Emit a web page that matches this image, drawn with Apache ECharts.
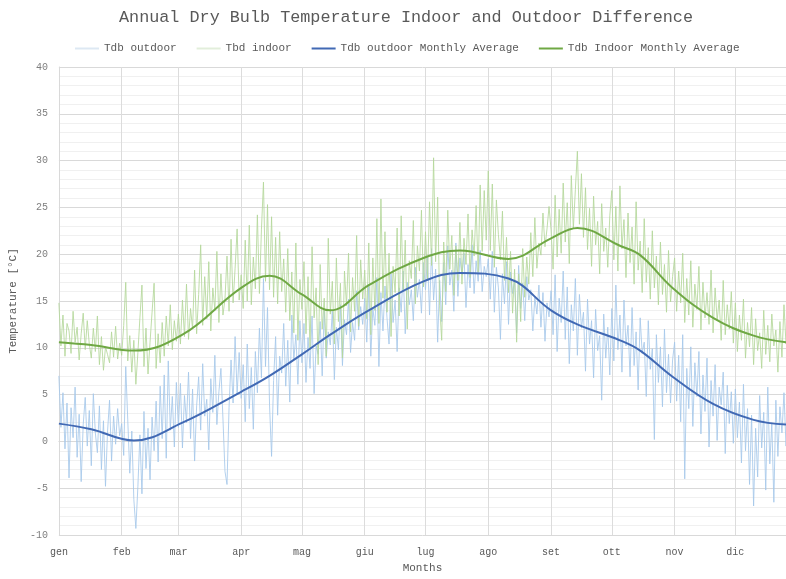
<!DOCTYPE html>
<html>
<head>
<meta charset="utf-8">
<title>Annual Dry Bulb Temperature</title>
<script src="https://cdn.jsdelivr.net/npm/echarts@6.0.0/dist/echarts.min.js"></script>
<style>
  html, body { margin: 0; padding: 0; background: #fff; }
  #main { width: 786px; height: 579px; }
</style>
</head>
<body>
<div id="main"></div>
<script>
// mesi e giorni per mese
var months = ['gen', 'feb', 'mar', 'apr', 'mag', 'giu', 'lug', 'ago', 'set', 'ott', 'nov', 'dic'];
var monthDays = [31, 28, 31, 30, 31, 30, 31, 31, 30, 31, 30, 31];
var yTicks = [-10, -5, 0, 5, 10, 15, 20, 25, 30, 35, 40];

// Tdb outdoor, daily values, one array per month
var outdoorJan = [7.0,1.5,5.2,-0.8,4.1,-3.9,3.6,0.4,5.8,-1.7,2.9,-4.3,1.8,4.7,-0.5,3.3,-2.6,5.1,0.9,-1.2,3.8,-3.0,2.2,-4.8,1.0,4.4,-2.1,2.7,-0.3,3.5,0.6];
var outdoorFeb = [1.9,-1.5,8.0,2.3,-3.4,1.1,-6.2,-9.3,-4.8,0.7,-5.6,3.2,-2.9,1.4,-4.1,2.6,-1.0,4.3,-2.2,5.9,0.3,7.1,-1.8,8.6,1.2,4.8,-0.6,6.3];
var outdoorMar = [1.5,6.2,-0.7,4.9,2.0,7.4,0.3,5.6,-2.1,3.8,6.9,1.2,8.3,2.7,4.5,-0.9,6.7,3.1,9.2,1.8,5.3,7.8,2.4,-3.2,-4.6,3.6,8.7,4.1,11.2,5.0,9.5];
var outdoorApr = [4.6,8.2,2.1,10.4,3.5,7.9,1.3,9.6,5.2,12.1,6.8,17.4,8.0,14.3,3.9,-1.6,6.5,11.2,2.8,9.1,7.3,12.6,5.9,10.8,4.2,13.5,8.7,11.4,6.1,12.9];
var outdoorMay = [8.4,12.6,6.3,11.1,7.8,13.4,5.1,10.2,9.3,12.8,7.0,14.1,8.9,11.7,10.3,13.9,6.6,12.2,9.8,14.6,8.1,13.0,11.4,15.2,9.5,12.7,10.8,16.1,11.9,14.4,12.5];
var outdoorJun = [15.3,10.6,16.8,9.1,14.2,12.4,17.5,8.0,15.9,11.8,16.6,13.2,10.4,17.9,12.7,15.1,9.6,16.4,13.8,18.2,11.5,17.0,14.6,16.2,12.9,18.6,15.4,17.3,13.7,19.1];
var outdoorJul = [16.2,19.8,13.5,20.6,15.1,18.4,10.6,17.2,12.8,19.1,14.6,20.9,16.7,18.3,13.9,21.2,15.5,19.6,17.8,20.1,14.3,18.9,16.4,21.0,15.8,19.3,17.1,20.4,16.0,18.7,17.6];
var outdoorAug = [19.5,15.2,20.3,13.8,18.6,16.4,10.9,17.9,14.7,19.2,12.5,18.1,15.8,17.3,11.6,18.8,14.2,16.9,12.9,17.6,15.1,16.2,11.8,15.4,13.6,16.7,12.2,15.9,10.7,14.8,13.3];
var outdoorSep = [16.1,11.4,17.8,9.6,15.3,12.7,18.2,10.9,16.5,8.3,14.6,11.8,17.4,9.2,15.7,12.1,13.8,7.5,15.2,10.4,12.9,6.8,14.1,9.7,11.3,4.4,13.6,8.9,12.2,7.1];
var outdoorOct = [14.2,8.6,16.7,9.8,13.5,7.4,15.1,10.2,12.4,6.9,14.3,8.1,11.7,5.5,13.2,9.4,10.6,4.8,12.9,7.7,9.9,0.2,11.4,6.3,10.1,3.7,12.0,5.2,9.3,4.1,8.7];
var outdoorNov = [10.6,4.3,9.2,2.1,11.4,-4.0,7.8,3.5,10.1,1.6,8.4,4.8,9.6,0.8,7.1,3.2,8.9,-0.6,6.5,2.7,8.2,0.1,5.8,3.9,7.4,-1.3,6.0,1.9,5.3,-0.2];
var outdoorDec = [5.6,0.4,4.2,-2.3,6.1,-1.0,3.5,-4.6,2.8,-6.9,1.4,-3.8,4.9,-0.7,3.1,-5.2,5.8,-2.4,2.0,-6.5,4.4,-1.6,3.7,0.9,5.2,-0.5,2.6,1.3,4.0,-1.1,2.2];

// Tbd indoor
var indoorJan = [14.8,10.2,13.5,9.1,12.6,11.8,9.4,13.9,10.6,12.2,8.7,11.5,13.7,9.8,12.9,10.4,8.9,12.1,9.6,13.4,8.2,11.2,7.6,10.1,9.3,8.4,11.7,9.0,12.3,8.8,10.5];
var indoorFeb = [9.2,12.4,17.0,8.6,11.3,7.4,10.8,6.1,9.5,13.2,16.7,8.0,12.1,7.2,10.6,13.8,16.9,7.8,11.5,8.4,12.7,9.1,13.4,10.2,14.6,9.8,12.9,10.7];
var indoorMar = [13.6,10.4,15.1,11.2,16.8,10.9,14.2,12.0,18.3,11.5,15.7,21.0,12.4,17.6,13.1,19.2,11.8,16.4,14.0,20.3,12.7,17.9,13.5,15.2,19.8,13.9,21.6,14.8,18.5,22.7,15.1];
var indoorApr = [17.8,14.2,21.5,15.0,23.1,14.6,19.7,16.3,24.2,15.8,22.6,27.7,17.1,25.3,16.2,24.0,15.4,21.8,14.7,22.4,16.0,19.5,13.8,20.6,12.9,18.1,11.6,21.2,10.8,17.3];
var indoorMay = [14.1,19.2,11.5,17.6,9.8,20.8,13.2,16.4,8.2,18.9,12.0,15.3,9.1,21.7,13.6,17.1,10.4,19.6,12.8,16.9,8.9,18.2,14.5,20.1,11.7,17.5,13.9,22.0,12.3,19.4,15.2];
var indoorJun = [18.3,13.1,21.2,11.4,19.6,14.0,23.8,12.6,25.9,15.3,22.4,13.8,20.1,11.2,18.7,15.9,22.8,13.4,24.1,16.2,21.5,12.0,19.3,17.4,23.6,14.7,20.9,18.2,24.7,16.5];
var indoorJul = [22.4,17.3,25.6,18.8,30.3,19.2,26.1,14.5,10.8,21.3,16.0,24.7,18.4,22.0,15.6,20.9,17.2,23.4,16.8,21.7,18.9,24.3,17.5,22.6,19.8,25.2,18.1,27.4,20.3,26.8,21.5];
var indoorAug = [28.9,20.4,27.5,18.6,25.8,22.1,19.4,24.6,17.2,21.8,15.9,20.3,13.7,18.4,10.6,17.9,12.8,20.6,15.4,19.7,16.8,22.3,17.6,23.9,18.5,21.2,19.9,24.4,20.8,22.7,25.1];
var indoorSep = [22.6,18.4,26.3,19.7,24.8,20.1,27.6,21.3,25.5,19.0,28.4,22.7,26.9,31.0,23.2,28.6,21.8,27.1,20.5,24.9,18.7,26.2,21.0,23.5,17.9,25.4,20.3,22.8,18.6,24.1];
var indoorOct = [26.8,19.4,25.1,18.2,27.3,20.6,23.7,17.5,24.4,19.1,22.9,16.8,25.6,18.3,21.4,15.9,23.8,17.0,20.7,15.2,22.5,16.4,19.8,14.6,21.3,15.7,18.9,13.8,20.4,14.9,17.6];
var indoorNov = [19.6,13.9,18.2,14.8,20.1,12.7,17.4,13.5,19.3,12.2,16.8,14.1,18.7,11.9,17.0,13.2,15.9,12.5,18.3,11.6,16.4,12.9,15.1,10.8,17.2,11.4,14.6,12.0,16.0,10.5];
var indoorDec = [14.8,9.6,13.5,10.8,15.2,8.9,12.7,10.1,14.3,8.2,13.1,9.7,11.6,7.8,14.0,9.3,12.4,8.5,13.6,10.2,11.9,7.4,12.8,9.0,14.6,10.4,11.3,9.8,12.1,10.6,11.0];

// monthly average curves: day of year / value
var avgDays       = [0, 16, 37, 61, 90, 104, 120, 134, 153, 180, 198, 222, 243, 256, 277, 287, 303, 323, 343, 359];
var outdoorAvg    = [1.9, 1.3, 0.1, 2.0, 5.3, 7.0, 9.3, 11.4, 14.0, 17.1, 18.0, 17.4, 14.0, 12.5, 10.8, 9.7, 6.9, 4.0, 2.3, 1.8];
var indoorAvg     = [10.6, 10.3, 9.7, 11.4, 16.4, 17.7, 15.7, 14.0, 16.7, 19.6, 20.4, 19.5, 21.7, 22.8, 20.9, 19.9, 16.4, 13.2, 11.3, 10.6];

var outdoorDaily = [].concat(outdoorJan, outdoorFeb, outdoorMar, outdoorApr, outdoorMay, outdoorJun,
  outdoorJul, outdoorAug, outdoorSep, outdoorOct, outdoorNov, outdoorDec);
var indoorDaily = [].concat(indoorJan, indoorFeb, indoorMar, indoorApr, indoorMay, indoorJun,
  indoorJul, indoorAug, indoorSep, indoorOct, indoorNov, indoorDec);

// una categoria per giorno, etichetta solo al primo del mese
var dayCats = [];
var monthStart = {};
var d = 0;
for (var m = 0; m < months.length; m++) {
  monthStart[d] = months[m];
  for (var k = 0; k < monthDays[m]; k++) {
    dayCats.push('d' + d);
    d++;
  }
}
function isMonthStart(index) {
  return monthStart[index] !== undefined;
}
function pairs(xs, ys) {
  return xs.map(function (x, i) { return [x, ys[i]]; });
}

var font = 'Liberation Mono';
var textGrey = '#595959';

var chart = echarts.init(document.getElementById('main'), null, { renderer: 'canvas' });
var option = {
  backgroundColor: '#ffffff',
  animation: false,
  title: {
    text: 'Annual Dry Bulb Temperature Indoor and Outdoor Difference',
    left: 114,
    top: 4,
    textStyle: { fontFamily: font, fontSize: 16.8, fontWeight: 'normal', color: textGrey }
  },
  legend: {
    top: 38,
    left: 70,
    icon: 'rect',
    itemWidth: 24,
    itemHeight: 2,
    itemGap: 20,
    textStyle: { fontFamily: font, fontSize: 11, color: textGrey },
    data: ['Tdb outdoor', 'Tbd indoor', 'Tdb outdoor Monthly Average', 'Tdb Indoor Monthly Average']
  },
  grid: { left: 56, right: 0, top: 67, bottom: 38 },
  xAxis: {
    type: 'category',
    boundaryGap: false,
    data: dayCats,
    max: 359,
    name: 'Months',
    nameLocation: 'middle',
    nameGap: 28,
    nameTextStyle: { fontFamily: font, fontSize: 11, color: textGrey },
    axisLine: { lineStyle: { color: '#d9d9d9' } },
    axisTick: { show: false },
    axisLabel: {
      interval: isMonthStart,
      formatter: function (v, idx) { return monthStart[idx] || ''; },
      fontFamily: font, fontSize: 10, color: textGrey, margin: 12
    },
    splitLine: { show: true, interval: isMonthStart, lineStyle: { color: '#dcdcdc' } }
  },
  yAxis: {
    type: 'value',
    min: yTicks[0],
    max: yTicks[yTicks.length - 1],
    interval: 5,
    name: 'Temperature [°C]',
    nameLocation: 'middle',
    nameGap: 33,
    nameTextStyle: { fontFamily: font, fontSize: 11, color: textGrey },
    axisLine: { show: true, lineStyle: { color: '#d9d9d9' } },
    axisTick: { show: false },
    axisLabel: { fontFamily: font, fontSize: 10, color: '#7f7f7f', margin: 11 },
    splitLine: { lineStyle: { color: '#d9d9d9' } },
    minorTick: { show: false, splitNumber: 5 },
    minorSplitLine: { show: true, lineStyle: { color: '#f0f0f0' } }
  },
  series: [
    {
      name: 'Tdb outdoor',
      type: 'line',
      symbol: 'none',
      data: outdoorDaily,
      lineStyle: { width: 1, color: '#a6c8ea', opacity: 0.85 },
      itemStyle: { color: '#dde8f3' }
    },
    {
      name: 'Tbd indoor',
      type: 'line',
      symbol: 'none',
      data: indoorDaily,
      lineStyle: { width: 1, color: '#b4d79a', opacity: 0.85 },
      itemStyle: { color: '#e2eedb' }
    },
    {
      name: 'Tdb outdoor Monthly Average',
      type: 'line',
      symbol: 'none',
      smooth: 0.4,
      data: pairs(avgDays, outdoorAvg),
      lineStyle: { width: 2, color: '#4169b4' },
      itemStyle: { color: '#4169b4' }
    },
    {
      name: 'Tdb Indoor Monthly Average',
      type: 'line',
      symbol: 'none',
      smooth: 0.4,
      data: pairs(avgDays, indoorAvg),
      lineStyle: { width: 2, color: '#6fa844' },
      itemStyle: { color: '#6fa844' }
    }
  ]
};
chart.setOption(option);
</script>
</body>
</html>
